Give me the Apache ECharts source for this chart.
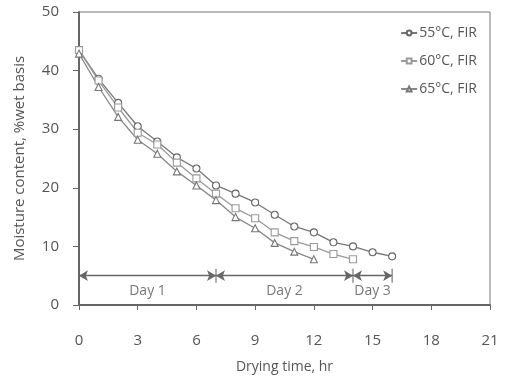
<!DOCTYPE html>
<html><head><meta charset="utf-8">
<script src="https://cdn.jsdelivr.net/npm/echarts@6/dist/echarts.min.js"></script>
<style>html,body{margin:0;padding:0;background:#fff}#c{width:508px;height:377px}</style>
</head><body><div id="c"></div>
<script>
const hours55 = [0,1,2,3,4,5,6,7,8,9,10,11,12,13,14,15,16];
const moist55 = [43.5,38.6,34.5,30.5,27.9,25.2,23.3,20.4,19.0,17.5,15.4,13.4,12.4,10.7,10.0,9.0,8.3];
const hours60 = [0,1,2,3,4,5,6,7,8,9,10,11,12,13,14];
const moist60 = [43.5,38.3,33.7,29.4,27.4,24.3,21.6,19.0,16.5,14.8,12.4,10.9,9.9,8.7,7.8];
const hours65 = [0,1,2,3,4,5,6,7,8,9,10,11,12];
const moist65 = [42.9,37.2,32.1,28.2,25.8,22.8,20.4,17.9,15.0,13.1,10.6,9.1,7.8];
const seriesNames = ['55°C, FIR','60°C, FIR','65°C, FIR'];
const xTicks = [0,3,6,9,12,15,18,21];
const yTicks = [0,10,20,30,40,50];
const dayLabels = ['Day 1','Day 2','Day 3'];
const dayBounds = [0,7,14,16];
const arrowLevel = 5;
const labelLevel = 2.4;

const font = 'Open Sans';
const txt = '#555';
function zip(a,b){return a.map((v,i)=>[v,b[i]]);}
function mk(name, xs, ys, sym, col, lc){
  return {name, type:'line', data:zip(xs,ys), symbol:sym, symbolSize:7,
    lineStyle:{color:lc,width:1.3}, itemStyle:{color:'#fff',borderColor:col,borderWidth:1.1},
    emphasis:{disabled:true}, z:3};
}
const arrows = [];
for(let i=0;i<3;i++){
  arrows.push([{coord:[dayBounds[i],arrowLevel]},{coord:[dayBounds[i+1],arrowLevel]}]);
}
const seps = dayBounds.slice(1).map(d=>[d,arrowLevel]);
const labels = dayLabels.map((t,i)=>({value:[(dayBounds[i]+dayBounds[i+1])/2,labelLevel],name:t}));

const chart = echarts.init(document.getElementById('c'));
chart.setOption({
  animation:false,
  grid:{left:79,right:18,top:12,bottom:72,show:true,borderColor:'#777',borderWidth:1,
    outerBoundsMode:'none',containLabel:false},
  legend:{right:26,top:21,orient:'vertical',itemGap:14,itemWidth:16,itemHeight:6,
    align:'left',textStyle:{fontFamily:font,fontSize:14,color:txt,padding:[0,0,0,-3]},data:seriesNames},
  xAxis:{type:'value',min:0,max:21,interval:3,name:'Drying time, hr',nameLocation:'middle',nameGap:55,
    nameTextStyle:{fontFamily:font,fontSize:14,color:txt},
    axisLine:{lineStyle:{color:'#666',width:2}},axisTick:{length:5,lineStyle:{color:'#666'}},
    axisLabel:{fontFamily:font,fontSize:15,color:txt,margin:28},splitLine:{show:false}},
  yAxis:{type:'value',min:0,max:50,interval:10,name:'Moisture content, %wet basis',nameLocation:'middle',nameGap:52,
    nameTextStyle:{fontFamily:font,fontSize:15,color:txt},
    axisLine:{show:true,lineStyle:{color:'#666',width:2}},axisTick:{show:true,length:6,lineStyle:{color:'#666'}},
    axisLabel:{fontFamily:font,fontSize:15,color:txt,margin:20},splitLine:{show:false}},
  series:[
    mk(seriesNames[0],hours55,moist55,'circle','#666','#777'),
    mk(seriesNames[1],hours60,moist60,'rect','#999','#999'),
    mk(seriesNames[2],hours65,moist65,'triangle','#777','#888'),
    {type:'scatter',data:seps,symbol:'rect',symbolSize:[1.2,14],itemStyle:{color:'#555'},silent:true,z:4,
      markLine:{silent:true,symbol:['arrow','arrow'],symbolSize:[8,9],label:{show:false},
        lineStyle:{color:'#666',width:1.3,type:'solid'},data:arrows}},
    {type:'scatter',data:labels,symbolSize:0,silent:true,
      label:{show:true,position:'inside',formatter:p=>p.name,fontFamily:font,fontSize:14,color:txt}}
  ]
});
</script></body></html>
